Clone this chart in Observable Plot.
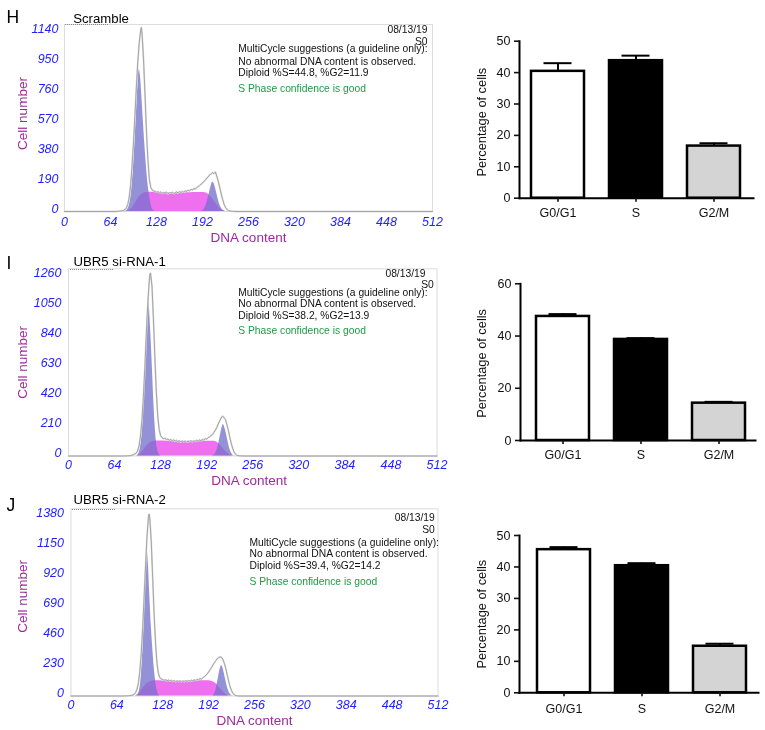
<!DOCTYPE html>
<html><head><meta charset="utf-8">
<script src="https://cdn.jsdelivr.net/npm/d3@7"></script>
<script src="https://cdn.jsdelivr.net/npm/@observablehq/plot@0.6"></script>
<style>
body{margin:0;background:#fff;font-family:"Liberation Sans",Arial,sans-serif;}
#fig{position:relative;width:765px;height:730px;overflow:hidden;background:#fff;}
#fig > div{position:absolute;}
.dots{border-top:1px dotted #8a8a8a;height:0;}
</style></head><body><div id="fig"></div>
<script>
// ---------- DATA ----------
const dnaTicks = [0, 64, 128, 192, 256, 320, 384, 448, 512];
const H_yTicks = [0, 190, 380, 570, 760, 950, 1140];
const I_yTicks = [0, 210, 420, 630, 840, 1050, 1260];
const J_yTicks = [0, 230, 460, 690, 920, 1150, 1380];
const letters = ["H", "I", "J"];
const titles = ["Scramble", "UBR5 si-RNA-1", "UBR5 si-RNA-2"];
const dateText = "08/13/19";
const sampleTag = "S0";
const noteLine1 = "MultiCycle suggestions (a guideline only):";
const noteLine2 = "No abnormal DNA content is observed.";
const diploidTexts = ["Diploid %S=44.8, %G2=11.9", "Diploid %S=38.2, %G2=13.9", "Diploid %S=39.4, %G2=14.2"];
const confidenceText = "S Phase confidence is good";
const xTitle = "DNA content";
const yTitle = "Cell number";

// raw histogram (grey line) and model components: [DNA channel, cell count]
const H_raw = [[0,0],[70,0],[74,1],[78,3],[82,6],[84,12],[86,22],[88,45],[90,90],[92,170],[94,290],[96,440],[98,610],[100,790],[102,950],[104,1070],[106,1150],[107,1165],[108,1120],[110,960],[112,740],[114,510],[116,330],[118,205],[120,152],[122,136],[124,131],[126,127],[128,122],[130,126],[132,118],[134,124],[136,115],[138,121],[140,117],[142,123],[144,112],[146,120],[148,116],[150,122],[152,113],[154,119],[156,124],[158,117],[160,126],[162,120],[164,128],[166,122],[168,131],[170,127],[172,135],[174,130],[176,140],[178,136],[180,146],[182,142],[184,152],[186,158],[188,164],[190,173],[192,180],[194,191],[196,199],[198,212],[200,220],[202,233],[204,237],[206,246],[208,240],[210,250],[212,222],[214,190],[216,152],[218,112],[220,76],[222,46],[224,26],[226,13],[228,6],[230,3],[234,1],[240,0],[512,0]];
const H_G1 = [[84,0],[88,14],[90,35],[92,80],[94,160],[96,280],[98,440],[100,620],[102,790],[104,900],[106,840],[108,700],[110,550],[112,410],[114,285],[116,180],[118,112],[120,58],[122,22],[124,6],[126,0]];
const H_S = [[88,0],[92,12],[96,35],[100,65],[104,92],[108,110],[112,118],[116,121],[120,122],[130,121],[140,119],[150,117],[160,117],[170,118],[180,120],[190,121],[196,119],[200,110],[204,92],[208,68],[212,42],[216,20],[220,6],[224,0]];
const H_G2 = [[190,0],[194,12],[196,30],[198,55],[200,88],[202,125],[204,162],[206,186],[208,178],[210,150],[212,112],[214,75],[216,45],[218,24],[220,11],[222,4],[224,0]];

const I_raw = [[0,0],[76,0],[82,1],[86,3],[90,8],[94,20],[96,35],[98,70],[100,140],[102,250],[104,410],[106,610],[108,840],[110,1050],[112,1210],[113,1270],[114,1280],[116,1190],[118,960],[120,690],[122,450],[124,280],[126,185],[128,142],[130,128],[132,121],[134,126],[136,114],[138,119],[140,109],[142,116],[144,106],[146,112],[148,103],[150,110],[152,100],[154,108],[156,98],[158,106],[160,99],[162,105],[164,97],[166,104],[168,99],[170,107],[172,100],[174,106],[176,102],[178,110],[180,104],[182,112],[184,107],[186,116],[188,111],[190,121],[192,118],[194,128],[196,134],[198,143],[200,151],[202,166],[204,180],[206,199],[208,223],[210,244],[212,266],[214,279],[216,270],[218,256],[220,222],[222,181],[224,134],[226,90],[228,55],[230,28],[232,12],[234,5],[238,1],[244,0],[512,0]];
const I_G1 = [[94,0],[98,20],[100,60],[102,140],[104,300],[106,520],[108,780],[110,1020],[111,1100],[112,1070],[114,900],[116,680],[118,440],[120,240],[122,105],[124,40],[126,12],[128,0]];
const I_S = [[96,0],[100,14],[104,38],[108,66],[112,88],[116,100],[120,104],[124,105],[140,104],[160,102],[180,103],[200,104],[204,101],[208,90],[212,70],[216,46],[220,24],[224,8],[228,0]];
const I_G2 = [[200,0],[203,8],[206,38],[208,72],[210,118],[212,168],[214,208],[215,220],[216,214],[218,184],[220,140],[222,92],[224,52],[226,24],[228,9],[230,2],[232,0]];

const J_raw = [[0,0],[72,0],[78,1],[82,3],[86,7],[88,12],[90,25],[92,50],[94,100],[96,190],[98,330],[100,520],[102,760],[104,1000],[106,1220],[108,1370],[109,1395],[110,1360],[112,1180],[114,900],[116,620],[118,400],[120,250],[122,172],[124,141],[126,130],[128,126],[130,120],[132,125],[134,117],[136,122],[138,114],[140,120],[142,112],[144,118],[146,110],[148,116],[150,111],[152,117],[154,109],[156,115],[158,110],[160,118],[162,112],[164,119],[166,113],[168,121],[170,116],[172,124],[174,119],[176,128],[178,124],[180,133],[182,130],[184,140],[186,148],[188,158],[190,170],[192,185],[194,201],[196,218],[198,238],[200,255],[202,271],[204,286],[206,294],[208,300],[210,296],[212,280],[214,250],[216,210],[218,160],[220,112],[222,70],[224,40],[226,20],[228,8],[230,3],[234,0],[512,0]];
const J_G1 = [[92,0],[94,14],[96,55],[98,150],[100,330],[102,580],[104,860],[106,1130],[108,1010],[110,760],[112,540],[114,370],[116,225],[118,120],[120,50],[122,15],[124,0]];
const J_S = [[90,0],[94,15],[98,40],[102,70],[106,95],[110,108],[114,114],[118,116],[130,115],[150,113],[170,114],[190,116],[196,114],[200,104],[204,86],[208,62],[212,36],[216,14],[218,6],[220,0]];
const J_G2 = [[198,0],[200,15],[202,45],[204,95],[206,150],[208,205],[210,232],[212,215],[214,170],[216,118],[218,72],[220,38],[222,15],[224,4],[226,0]];

// bar charts
const phases = ["G0/G1", "S", "G2/M"];
const phaseFills = ["#ffffff", "#000000", "#d4d4d4"];
const H_pct = [40.4, 43.8, 16.6];
const H_err = [2.6, 1.6, 0.9];
const I_pct = [47.5, 38.7, 14.3];
const I_err = [0.9, 0.5, 0.5];
const J_pct = [45.5, 40.4, 14.8];
const J_err = [0.8, 0.8, 0.8];
const H_pctTicks = [0, 10, 20, 30, 40, 50];
const I_pctTicks = [0, 20, 40, 60];
const J_pctTicks = [0, 10, 20, 30, 40, 50];
const pctTitle = "Percentage of cells";

// ---------- STYLE / LAYOUT ----------
const FONT = "'Liberation Sans', Arial, Helvetica, sans-serif";
const BLUE = "#9492d6";
const PINK = "#ee70ee";
const AXBLUE = "#1e1eff";
const PURPLE = "#9c2a9c";
const GREEN = "#1f9a45";
const fig = document.getElementById("fig");

function place(node, left, top) {
  const d = document.createElement("div");
  d.style.left = left + "px"; d.style.top = top + "px";
  d.appendChild(node); fig.appendChild(d);
  return d;
}

const histCfg = [
  {left:0, top:0, w:445, h:245, mL:64, mR:13, mT:24, mB:34, y0:211, yTop:31, yPad:6, xPad:6,
   letter:[-58,-1.3], title:[8.7,-1.3], date:[-5,8.3], s0:[-5,20.3], blockDx:173.7, blockDy:[27.7,40,51,67.7],
   yLab:[-42,-4.5], xLab:[0,26], dots:[65,23.5]},
  {left:0, top:245, w:445, h:245, mL:68, mR:8.5, mT:23.3, mB:34.5, y0:210.5, yTop:30.5, yPad:7, xPad:4.5,
   letter:[-62,0], title:[5,-3.3], date:[-11.5,8.4], s0:[-3.2,19], blockDx:169.7, blockDy:[26.7,38.4,50,65],
   yLab:[-46,0], xLab:[-3.6,24.5], dots:[70,268.5]},
  {left:0, top:485, w:445, h:245, mL:70.5, mR:7.5, mT:23.3, mB:34.5, y0:210.5, yTop:30.5, yPad:7, xPad:4.5,
   letter:[-64.5,2.4], title:[2.5,-5], date:[-3.2,11.7], s0:[-3.2,24.4], blockDx:178.5, blockDy:[36.7,48.4,60,75.7],
   yLab:[-48.5,-6], xLab:[0,24.5], dots:[72,508.5]}
];
const histData = [
  {raw:H_raw, g1:H_G1, s:H_S, g2:H_G2, yTicks:H_yTicks},
  {raw:I_raw, g1:I_G1, s:I_S, g2:I_G2, yTicks:I_yTicks},
  {raw:J_raw, g1:J_G1, s:J_S, g2:J_G2, yTicks:J_yTicks}
];

const fx = d => d[0], fy = d => d[1];
const plain = d => String(d);

histCfg.forEach((c, i) => {
  const D = histData[i];
  const txt = (s, o) => Plot.text([s], {text: d => d, lineAnchor: "bottom", fontSize: 10.3, fill: "#111", ...o});
  const plot = Plot.plot({
    width: c.w, height: c.h,
    marginLeft: c.mL, marginRight: c.mR, marginTop: c.mT, marginBottom: c.mB,
    style: {fontFamily: FONT, background: "transparent", overflow: "visible"},
    x: {domain: [0, 512]},
    y: {domain: [0, D.yTicks[D.yTicks.length - 1]], range: [c.y0, c.yTop]},
    marks: [
      Plot.frame({stroke: "#dcdcdc", strokeWidth: 1}),
      Plot.areaY(D.g1, {x: fx, y: fy, fill: BLUE, curve: "monotone-x"}),
      Plot.areaY(D.g2, {x: fx, y: fy, fill: BLUE, curve: "monotone-x"}),
      Plot.areaY(D.s, {x: fx, y: fy, fill: PINK, curve: "monotone-x", mixBlendMode: "darken"}),
      Plot.lineY(D.raw, {x: fx, y: fy, stroke: "#dedede", strokeWidth: 1.8}),
      Plot.lineY(D.raw, {x: fx, y: fy, stroke: "#959595", strokeWidth: 0.8}),
      Plot.axisY(D.yTicks, {tickSize: 0, tickPadding: c.yPad, tickFormat: plain, color: AXBLUE, fontStyle: "italic", fontSize: 12.5, dy: -3, label: null}),
      Plot.axisX(dnaTicks, {tickSize: 0, tickPadding: c.xPad, tickFormat: plain, color: AXBLUE, fontStyle: "italic", fontSize: 12.5, label: null}),
      Plot.text([yTitle], {text: d => d, frameAnchor: "left", textAnchor: "middle", lineAnchor: "middle", rotate: -90, dx: c.yLab[0], dy: c.yLab[1], fontSize: 13.5, fill: PURPLE}),
      Plot.text([xTitle], {text: d => d, frameAnchor: "bottom", textAnchor: "middle", lineAnchor: "middle", dx: c.xLab[0], dy: c.xLab[1], fontSize: 13.5, fill: PURPLE}),
      txt(letters[i], {frameAnchor: "top-left", textAnchor: "start", dx: c.letter[0], dy: c.letter[1], fontSize: 17.5, fill: "#000"}),
      txt(titles[i], {frameAnchor: "top-left", textAnchor: "start", dx: c.title[0], dy: c.title[1], fontSize: 13.2, fill: "#000"}),
      txt(dateText, {frameAnchor: "top-right", textAnchor: "end", dx: c.date[0], dy: c.date[1]}),
      txt(sampleTag, {frameAnchor: "top-right", textAnchor: "end", dx: c.s0[0], dy: c.s0[1]}),
      txt(noteLine1, {frameAnchor: "top-left", textAnchor: "start", dx: c.blockDx, dy: c.blockDy[0]}),
      txt(noteLine2, {frameAnchor: "top-left", textAnchor: "start", dx: c.blockDx, dy: c.blockDy[1]}),
      txt(diploidTexts[i], {frameAnchor: "top-left", textAnchor: "start", dx: c.blockDx, dy: c.blockDy[2]}),
      txt(confidenceText, {frameAnchor: "top-left", textAnchor: "start", dx: c.blockDx, dy: c.blockDy[3], fill: GREEN})
    ]
  });
  place(plot, c.left, c.top);
  const dots = document.createElement("div");
  dots.className = "dots"; dots.style.width = "43px";
  const wrap = document.createElement("div");
  wrap.style.left = c.dots[0] + "px"; wrap.style.top = c.dots[1] + "px";
  wrap.appendChild(dots); fig.appendChild(wrap);
});

const barCfg = [
  {left:445, top:0, w:320, h:245, mL:74, mR:12, mT:40.7, mB:47.3, pi:0.317, po:0.153, align:0.5, yLab:[-37.3,2.5], xPad:5.5},
  {left:445, top:245, w:320, h:245, mL:75, mR:10, mT:38.3, mB:50, pi:0.325, po:0.16, align:0.6, yLab:[-38.3,1.3], xPad:5.5},
  {left:445, top:485, w:320, h:245, mL:74, mR:7, mT:50, mB:37.7, pi:0.326, po:0.183, align:0.58, yLab:[-37.3,0], xPad:7.5}
];
const barData = [
  {pct:H_pct, err:H_err, ticks:H_pctTicks},
  {pct:I_pct, err:I_err, ticks:I_pctTicks},
  {pct:J_pct, err:J_err, ticks:J_pctTicks}
];

barCfg.forEach((c, i) => {
  const B = barData[i];
  const rows = phases.map((p, k) => ({phase: p, value: B.pct[k], err: B.err[k], fill: phaseFills[k]}));
  const plot = Plot.plot({
    width: c.w, height: c.h,
    marginLeft: c.mL, marginRight: c.mR, marginTop: c.mT, marginBottom: c.mB,
    style: {fontFamily: FONT, background: "transparent", overflow: "visible", color: "#111"},
    x: {domain: phases, paddingInner: c.pi, paddingOuter: c.po, align: c.align},
    y: {domain: [0, B.ticks[B.ticks.length - 1]]},
    color: {type: "identity"},
    marks: [
      Plot.ruleX(rows, {x: "phase", y1: "value", y2: d => d.value + d.err, stroke: "#000", strokeWidth: 2}),
      Plot.tickY(rows, {x: "phase", y: d => d.value + d.err, stroke: "#000", strokeWidth: 2, insetLeft: 12.5, insetRight: 12.5}),
      Plot.barY(rows, {x: "phase", y: "value", fill: "fill", stroke: "#000", strokeWidth: 2.5}),
      Plot.frame({anchor: "left", stroke: "#000", strokeWidth: 2}),
      Plot.frame({anchor: "bottom", stroke: "#000", strokeWidth: 2}),
      Plot.axisY(B.ticks, {tickSize: 5, tickPadding: 4, fontSize: 12.5, strokeWidth: 1.6, label: null}),
      Plot.axisX({tickSize: 4, tickPadding: c.xPad, fontSize: 12.5, strokeWidth: 1.6, label: null}),
      Plot.text([pctTitle], {text: d => d, frameAnchor: "left", textAnchor: "middle", lineAnchor: "middle", rotate: -90, dx: c.yLab[0], dy: c.yLab[1], fontSize: 12.8, fill: "#111"})
    ]
  });
  place(plot, c.left, c.top);
});
</script>
</body></html>
